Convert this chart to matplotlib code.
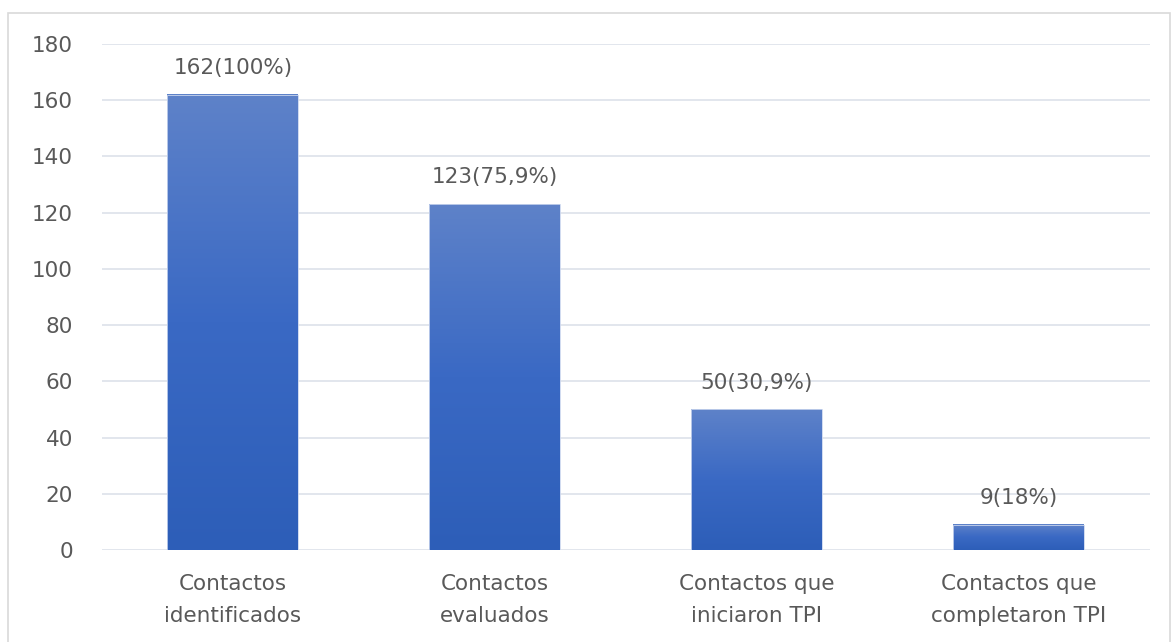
import matplotlib.pyplot as plt
import numpy as np
from matplotlib.colors import LinearSegmentedColormap
from matplotlib.patches import Rectangle

categories = ['Contactos\nidentificados', 'Contactos\nevaluados',
              'Contactos que\niniciaron TPI', 'Contactos que\ncompletaron TPI']
values = [162, 123, 50, 9]
labels = ['162(100%)', '123(75,9%)', '50(30,9%)', '9(18%)']

plt.rcParams['font.family'] = ['DejaVu Sans']
txt = '#595959'
fs = 15.5

fig = plt.figure(figsize=(11.75, 6.42), dpi=100)
ax = fig.add_axes([0.0868, 0.1433, 0.8919, 0.7882])

# light frame around the whole chart
fig.patches.append(Rectangle((8/1175, -0.02), 1162/1175, 1 - 13/642 + 0.02,
                             transform=fig.transFigure, fill=False,
                             edgecolor='#d9d9d9', lw=1.2))

grad = LinearSegmentedColormap.from_list('g', ['#2d5eb8', '#3a69c4', '#5e82c9'])
x = np.arange(len(values))
w = 0.5
bars = ax.bar(x, values, width=w, color='none', edgecolor='#c9d5ee', lw=0.6, zorder=3)
for b in bars:
    x0, y0 = b.get_x(), b.get_y()
    ax.imshow(np.linspace(0, 1, 256).reshape(-1, 1), cmap=grad, origin='lower',
              extent=(x0, x0 + b.get_width(), y0, y0 + b.get_height()),
              aspect='auto', zorder=2)

for xi, v, lab in zip(x, values, labels):
    ax.text(xi, v + 6, lab, ha='center', va='bottom', fontsize=fs, color=txt)

ax.set_xlim(-0.5, len(values) - 0.5)
ax.set_ylim(0, 180)
ax.set_yticks(range(0, 181, 20))
ax.set_xticks(x)
ax.set_xticklabels(categories, fontsize=fs, color=txt, linespacing=1.75)
ax.tick_params(axis='y', labelsize=fs, labelcolor=txt, length=0, pad=21)
ax.tick_params(axis='x', length=0, pad=17)
ax.grid(axis='y', color='#dde1ea', lw=1.2, zorder=0)
ax.set_axisbelow(True)
for s in ax.spines.values():
    s.set_visible(False)

plt.savefig('out.png', dpi=100)
